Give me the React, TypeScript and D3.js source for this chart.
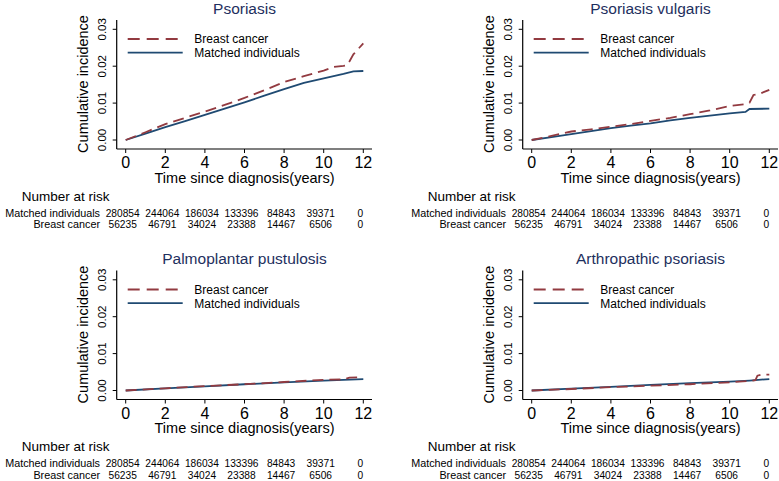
import React from "react";
import * as d3 from "d3";

// ---------- data ----------
const panelTitles = ["Psoriasis", "Psoriasis vulgaris", "Palmoplantar pustulosis", "Arthropathic psoriasis"];
const seriesNames = ["Breast cancer", "Matched individuals"];
const xTicks = [0, 2, 4, 6, 8, 10, 12];
const yTicks = [0, 0.01, 0.02, 0.03];
const yTickLabels = ["0.00", "0.01", "0.02", "0.03"];
const riskTimes = [0, 2, 4, 6, 8, 10, 12];
const riskMatched = ["280854", "244064", "186034", "133396", "84843", "39371", "0"];
const riskBreast = ["56235", "46791", "34024", "23388", "14467", "6506", "0"];

// Psoriasis
const psoBcT = [0, 1, 2, 3, 4, 5, 6, 7, 8, 9, 10, 10.5, 11, 11.2, 11.5, 11.8, 12];
const psoBcY = [0, 0.0021, 0.0043, 0.006, 0.0077, 0.0095, 0.0114, 0.0135, 0.0157, 0.0173, 0.0188, 0.0198, 0.0201, 0.0203, 0.0232, 0.025, 0.0262];
const psoMaT = [0, 1, 2, 3, 4, 5, 6, 7, 8, 9, 10, 11, 11.5, 12];
const psoMaY = [0, 0.0017, 0.0035, 0.0051, 0.0068, 0.0085, 0.0102, 0.012, 0.0138, 0.0155, 0.0167, 0.0179, 0.0186, 0.0187];
// Psoriasis vulgaris
const pvBcT = [0, 1, 2, 3, 4, 5, 6, 7, 8, 9, 10, 10.8, 11, 11.2, 11.5, 12];
const pvBcY = [0, 0.0011, 0.0023, 0.0029, 0.0036, 0.0043, 0.0052, 0.006, 0.007, 0.008, 0.0092, 0.0097, 0.0101, 0.0122, 0.0125, 0.0136];
const pvMaT = [0, 1, 2, 3, 4, 5, 6, 7, 8, 9, 10, 10.8, 11, 12];
const pvMaY = [0, 0.0008, 0.0016, 0.0024, 0.0032, 0.0039, 0.0045, 0.0053, 0.006, 0.0066, 0.0072, 0.0076, 0.0084, 0.0085];
// Palmoplantar pustulosis
const ppBcT = [0, 2, 4, 6, 8, 10, 11, 11.3, 11.8];
const ppBcY = [0, 0.0006, 0.0012, 0.0017, 0.0023, 0.0029, 0.003, 0.0035, 0.0036];
const ppMaT = [0, 2, 4, 6, 8, 10, 12];
const ppMaY = [0, 0.0006, 0.0011, 0.0017, 0.0022, 0.0027, 0.0031];
// Arthropathic psoriasis
const apBcT = [0, 2, 4, 6, 8, 10, 11, 11.3, 11.4, 11.6, 12];
const apBcY = [0, 0.0004, 0.0009, 0.0013, 0.0017, 0.0022, 0.0026, 0.0028, 0.004, 0.0043, 0.0043];
const apMaT = [0, 2, 4, 6, 8, 10, 11, 12];
const apMaY = [0, 0.0005, 0.001, 0.0015, 0.002, 0.0024, 0.0027, 0.0031];

const panelData = [
  { bcT: psoBcT, bcY: psoBcY, maT: psoMaT, maY: psoMaY },
  { bcT: pvBcT, bcY: pvBcY, maT: pvMaT, maY: pvMaY },
  { bcT: ppBcT, bcY: ppBcY, maT: ppMaT, maY: ppMaY },
  { bcT: apBcT, bcY: apBcY, maT: apMaT, maY: apMaY },
];

// ---------- style ----------
const RED = "#923a40";
const BLUE = "#1f4a72";
const TITLE = "#1e2f5e";
const FONT = "'Liberation Sans', Arial, Helvetica, sans-serif";

const W = 779;
const H = 481;

function Panel({ idx }: { idx: number }) {
  const ox = (idx % 2) * 406;
  const oy = Math.floor(idx / 2) * 250.5;
  const x = d3.scaleLinear().domain([0, 12]).range([125.7, 363.3]);
  const y = d3.scaleLinear().domain([0, 0.03]).range([140, 29.3]);
  const axisX = 116.7;
  const axisY = 149;
  const d = panelData[idx];
  const line = d3
    .line<[number, number]>()
    .x((p) => x(p[0]))
    .y((p) => y(p[1]));
  const bc = line(d.bcT.map((t, i) => [t, d.bcY[i]] as [number, number])) || "";
  const ma = line(d.maT.map((t, i) => [t, d.maY[i]] as [number, number])) || "";
  const cx = (x(0) + x(12)) / 2;

  return (
    <g transform={`translate(${ox},${oy})`} fontFamily={FONT}>
      <text x={cx} y={13.5} textAnchor="middle" fontSize={15.5} fill={TITLE}>
        {panelTitles[idx]}
      </text>
      {/* axes */}
      <line x1={axisX} x2={axisX} y1={20} y2={axisY} stroke="#000" strokeWidth={1.2} />
      <line x1={axisX} x2={372} y1={axisY} y2={axisY} stroke="#000" strokeWidth={1.2} />
      {yTicks.map((v, i) => (
        <g key={"yt" + i}>
          <line x1={axisX - 4} x2={axisX} y1={y(v)} y2={y(v)} stroke="#000" strokeWidth={1} />
          <text
            transform={`translate(106,${y(v)}) rotate(-90)`}
            textAnchor="middle"
            fontSize={11.5}
            fill="#000"
          >
            {yTickLabels[i]}
          </text>
        </g>
      ))}
      {xTicks.map((v) => (
        <g key={"xt" + v}>
          <line x1={x(v)} x2={x(v)} y1={axisY} y2={axisY + 4} stroke="#000" strokeWidth={1} />
          <text x={x(v)} y={168} textAnchor="middle" fontSize={16} fill="#000">
            {v}
          </text>
        </g>
      ))}
      <text transform={`translate(88,84) rotate(-90)`} textAnchor="middle" fontSize={14.5} fill="#000">
        Cumulative incidence
      </text>
      <text x={cx} y={182.7} textAnchor="middle" fontSize={14.5} fill="#000">
        Time since diagnosis(years)
      </text>
      {/* curves */}
      <path d={ma} fill="none" stroke={BLUE} strokeWidth={1.8} />
      <path d={bc} fill="none" stroke={RED} strokeWidth={1.8} strokeDasharray="11,6" />
      {/* legend */}
      <line x1={127.7} x2={182.7} y1={39} y2={39} stroke={RED} strokeWidth={1.8} strokeDasharray="12,7" />
      <line x1={127.7} x2={182.7} y1={52.7} y2={52.7} stroke={BLUE} strokeWidth={1.8} />
      <text x={194.3} y={43.2} fontSize={12} fill="#000">
        {seriesNames[0]}
      </text>
      <text x={194.3} y={57} fontSize={12} fill="#000">
        {seriesNames[1]}
      </text>
      {/* risk table */}
      <text x={21.7} y={200.5} fontSize={13.5} fill="#000">
        Number at risk
      </text>
      <text x={100} y={216.5} textAnchor="end" fontSize={10.8} fill="#000">
        {seriesNames[1]}
      </text>
      <text x={100} y={228} textAnchor="end" fontSize={10.8} fill="#000">
        {seriesNames[0]}
      </text>
      {riskTimes.map((t, i) => (
        <g key={"r" + i}>
          <text x={x(t) - 3} y={216.5} textAnchor="middle" fontSize={10.2} fill="#000">
            {riskMatched[i]}
          </text>
          <text x={x(t) - 3} y={228} textAnchor="middle" fontSize={10.2} fill="#000">
            {riskBreast[i]}
          </text>
        </g>
      ))}
    </g>
  );
}

export default function App() {
  return (
    <svg
      width={W}
      height={H}
      viewBox={`0 0 ${W} ${H}`}
      style={{ position: "absolute", left: 0, top: 0, background: "#fff" }}
    >
      <rect x={0} y={0} width={W} height={H} fill="#fff" />
      {[0, 1, 2, 3].map((i) => (
        <Panel key={i} idx={i} />
      ))}
    </svg>
  );
}
